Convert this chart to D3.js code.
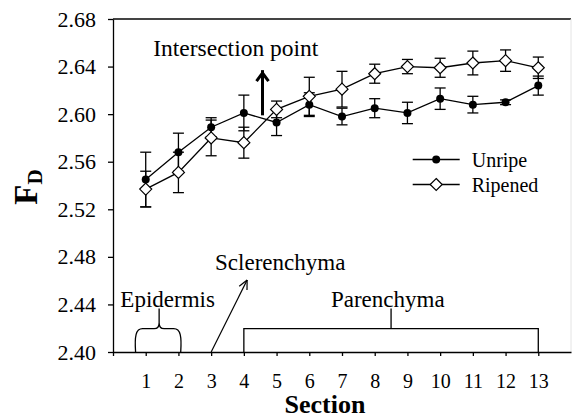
<!DOCTYPE html>
<meta charset="utf-8">
<script src="https://d3js.org/d3.v7.min.js"></script>
<style>
    body { margin: 0; background: #fff; }
    text { font-family: "Liberation Serif", "Times New Roman", serif; fill: #000; }
</style>
<div id="viz_area"></div>
<script>
    // values
    var sections = [1, 2, 3, 4, 5, 6, 7, 8, 9, 10, 11, 12, 13]
    var unripe = [2.545, 2.568, 2.589, 2.601, 2.593, 2.608, 2.598, 2.605, 2.601, 2.613, 2.608, 2.610, 2.624]
    var unripeErr = [0.023, 0.016, 0.008, 0.015, 0.011, 0.010, 0.007, 0.008, 0.009, 0.009, 0.007, 0.002, 0.008]
    var ripened = [2.537, 2.551, 2.580, 2.576, 2.604, 2.615, 2.621, 2.634, 2.640, 2.639, 2.643, 2.645, 2.639]
    var ripenedErr = [0.015, 0.017, 0.015, 0.013, 0.007, 0.016, 0.015, 0.008, 0.006, 0.008, 0.010, 0.009, 0.009]
    var yTicks = [2.40, 2.44, 2.48, 2.52, 2.56, 2.60, 2.64, 2.68]
    var xTicks = [0, 1, 2, 3, 4, 5, 6, 7, 8, 9, 10, 11, 12, 13]

    var W = 572, H = 418
    var margin = { left: 113, top: 19, right: 1, bottom: 66 }
    var w = W - margin.left - margin.right
    var h = H - margin.top - margin.bottom

    var svg = d3.select("#viz_area").append("svg")
        .attr("width", W).attr("height", H)
    var g = svg.append("g")
        .attr("transform", "translate(" + margin.left + "," + margin.top + ")")

    var x = d3.scaleLinear().domain([0, 14]).range([0, w])
    var y = d3.scaleLinear().domain([2.40, 2.68]).range([h, 0])

    // frame: top and right
    g.append("line").attr("x1", 0).attr("x2", w).attr("y1", 0).attr("y2", 0)
        .attr("stroke", "#444").attr("stroke-width", 2)
    g.append("line").attr("x1", w).attr("x2", w).attr("y1", 0).attr("y2", h)
        .attr("stroke", "#e4e4e4").attr("stroke-width", 1)

    var yAxis = g.append("g")
        .call(d3.axisLeft(y).tickValues(yTicks).tickSize(5).tickSizeOuter(0).tickPadding(12)
            .tickFormat(d3.format(".2f")))
    yAxis.selectAll(".tick text").attr("font-size", "22px")
    var xAxis = g.append("g")
        .attr("transform", "translate(0," + h + ")")
        .call(d3.axisBottom(x).tickValues(xTicks).tickSize(4).tickSizeOuter(0).tickPadding(18)
            .tickFormat(function(d) { return d === 0 ? "" : d }))
    xAxis.selectAll(".tick text").attr("font-size", "20px")
    g.selectAll(".tick text").style("font-family", "Liberation Serif")
    g.selectAll(".domain, .tick line").attr("stroke", "#000").attr("stroke-width", 1.3)

    // axis titles
    var ylab = svg.append("text")
        .attr("transform", "translate(37,187) rotate(-90)")
        .attr("text-anchor", "middle")
        .attr("font-weight", "bold")
        .attr("font-size", "33px")
    ylab.append("tspan").text("F")
    ylab.append("tspan").text("D").attr("font-size", "21px").attr("dy", "0.25em")

    svg.append("text")
        .attr("x", margin.left + x(6.48)).attr("y", 413)
        .attr("text-anchor", "middle")
        .attr("font-weight", "bold")
        .attr("font-size", "26px")
        .text("Section")

    // series
    var series = [
        { name: "Unripe", vals: unripe, err: unripeErr, filled: true },
        { name: "Ripened", vals: ripened, err: ripenedErr, filled: false }
    ]
    var line = d3.line()
        .x(function(d) { return x(d.s) })
        .y(function(d) { return y(d.v) })

    function drawMarker(sel, filled) {
        if (filled) {
            sel.append("circle").attr("r", 4).attr("fill", "#000")
        } else {
            sel.append("path").attr("d", "M0,-6L6,0L0,6L-6,0Z")
                .attr("fill", "#fff").attr("stroke", "#000").attr("stroke-width", 1.2)
        }
    }

    series.forEach(function(s) {
        var pts = sections.map(function(sec, i) { return { s: sec, v: s.vals[i], e: s.err[i] } })
        var sg = g.append("g")
        sg.append("path").datum(pts).attr("d", line)
            .attr("fill", "none").attr("stroke", "#000").attr("stroke-width", 1.3)
        var eb = sg.selectAll(".err").data(pts).enter().append("g")
        eb.append("line")
            .attr("x1", function(d) { return x(d.s) }).attr("x2", function(d) { return x(d.s) })
            .attr("y1", function(d) { return y(d.v - d.e) }).attr("y2", function(d) { return y(d.v + d.e) })
            .attr("stroke", "#000").attr("stroke-width", 1.3)
        ;[-1, 1].forEach(function(sign) {
            eb.append("line")
                .attr("x1", function(d) { return x(d.s) - 5.5 }).attr("x2", function(d) { return x(d.s) + 5.5 })
                .attr("y1", function(d) { return y(d.v + sign * d.e) }).attr("y2", function(d) { return y(d.v + sign * d.e) })
                .attr("stroke", "#000").attr("stroke-width", 1.3)
        })
        var mk = sg.selectAll(".mk").data(pts).enter().append("g")
            .attr("transform", function(d) { return "translate(" + x(d.s) + "," + y(d.v) + ")" })
        drawMarker(mk, s.filled)
    })

    // legend
    var legend = g.selectAll(".legend").data(series).enter().append("g")
        .attr("transform", function(d, i) { return "translate(" + (412.7 - margin.left) + "," + (159.5 - margin.top + i * 25) + ")" })
    legend.append("line").attr("x1", 0).attr("x2", 47).attr("stroke", "#000").attr("stroke-width", 1.3)
    legend.each(function(d) {
        var m = d3.select(this).append("g").attr("transform", "translate(23.5,0)")
        drawMarker(m, d.filled)
    })
    legend.append("text").attr("x", 59).attr("y", 7)
        .attr("font-size", "20px").text(function(d) { return d.name })

    // annotations
    g.append("text").attr("x", x(1.23)).attr("y", 56 - margin.top)
        .attr("font-size", "23.5px").text("Intersection point")
    g.append("line").attr("x1", x(4.57)).attr("x2", x(4.57))
        .attr("y1", y(2.599)).attr("y2", y(2.637))
        .attr("stroke", "#000").attr("stroke-width", 3)
    g.append("path")
        .attr("d", "M" + (x(4.57) - 6) + "," + (y(2.6345) + 8) + "L" + x(4.57) + "," + y(2.6345) + "L" + (x(4.57) + 6) + "," + (y(2.6345) + 8))
        .attr("fill", "none").attr("stroke", "#000").attr("stroke-width", 3)

    // epidermis brace
    var bx0 = x(0.69), bx1 = x(2.07), bm = x(1.41)
    var by = y(2.4196), btop = y(2.4366)
    g.append("path")
        .attr("d", "M" + bx0 + "," + h + " C" + (bx0 - 1) + "," + (by + 8) + " " + bx0 + "," + by + " " + (bx0 + 7) + "," + by +
            " L" + (bm - 5) + "," + by + " Q" + bm + "," + by + " " + bm + "," + (by - 6) + " L" + bm + "," + btop +
            " M" + bm + "," + (by - 6) + " Q" + bm + "," + by + " " + (bm + 5) + "," + by +
            " L" + (bx1 - 7) + "," + by + " C" + bx1 + "," + by + " " + (bx1 + 1) + "," + (by + 8) + " " + bx1 + "," + h)
        .attr("fill", "none").attr("stroke", "#000").attr("stroke-width", 1.3)
    g.append("text").attr("x", x(1.67)).attr("y", 307 - margin.top)
        .attr("text-anchor", "middle").attr("font-size", "23px").text("Epidermis")

    // sclerenchyma arrow
    var ax1 = x(4.1), ay1 = y(2.4605)
    g.append("line").attr("x1", x(3)).attr("y1", h).attr("x2", ax1).attr("y2", ay1)
        .attr("stroke", "#000").attr("stroke-width", 1.2)
    var ang = Math.atan2(ay1 - h, ax1 - x(3))
    ;[-0.45, 0.45].forEach(function(da) {
        g.append("line").attr("x1", ax1).attr("y1", ay1)
            .attr("x2", ax1 - 10 * Math.cos(ang + da)).attr("y2", ay1 - 10 * Math.sin(ang + da))
            .attr("stroke", "#000").attr("stroke-width", 1.2)
    })
    g.append("text").attr("x", x(3.12)).attr("y", 270 - margin.top)
        .attr("font-size", "23px").text("Sclerenchyma")

    // parenchyma bracket
    g.append("path")
        .attr("d", "M" + x(4) + "," + h + "V" + by + "H" + x(13) + "V" + h +
            "M" + x(8.5) + "," + by + "V" + btop)
        .attr("fill", "none").attr("stroke", "#000").attr("stroke-width", 1.3)
    g.append("text").attr("x", x(8.4)).attr("y", 307 - margin.top)
        .attr("text-anchor", "middle").attr("font-size", "23px").text("Parenchyma")
</script>
